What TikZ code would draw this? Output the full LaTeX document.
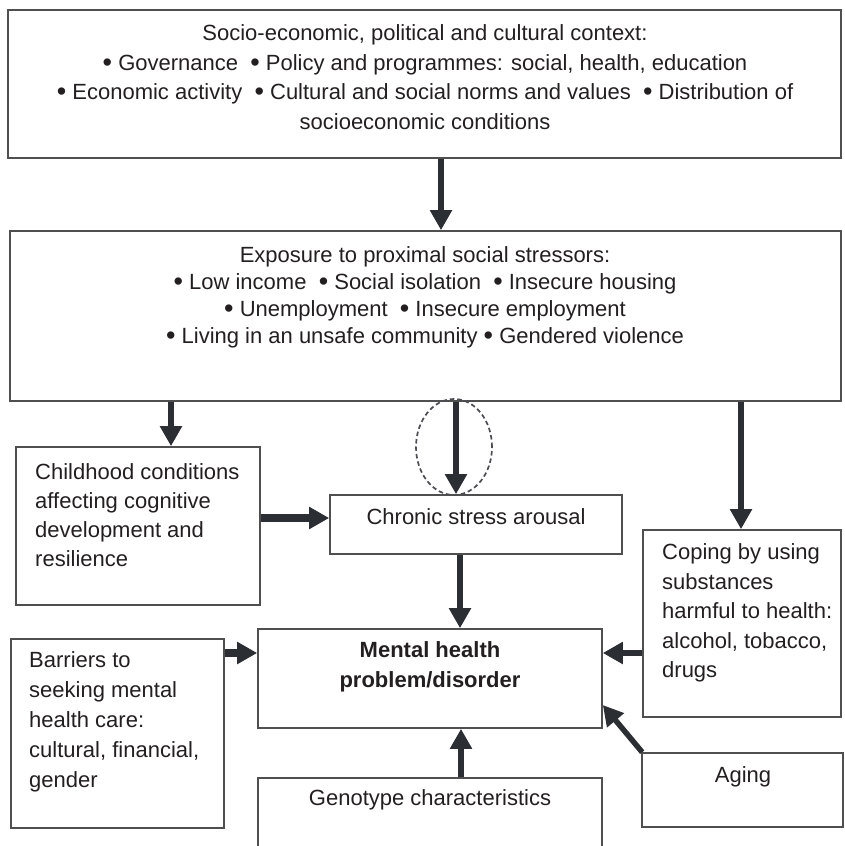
\documentclass[tikz,border=0pt]{standalone}
\usepackage{fontspec}
\setmainfont{Liberation Sans}
\usetikzlibrary{arrows.meta,shapes.geometric}
\definecolor{boxline}{HTML}{4F4F4F}
\definecolor{arrcol}{HTML}{2B2E33}
\definecolor{txt}{HTML}{231F20}
\newcommand\bigbul{\raisebox{-1.2pt}{\fontsize{27}{27}\selectfont•}}
\begin{document}
\begin{tikzpicture}[x=1pt,y=-1pt,
  box/.style={draw=boxline,line width=1.6pt,inner sep=0pt,rectangle},
  lbl/.style={inner sep=0pt,font=\fontsize{22}{29.5}\selectfont,text=txt},
  arr/.style={draw=arrcol,line width=6pt,-{Triangle[width=21pt,length=20pt]}},
  loopmark/.style={draw=arrcol!85,line width=1.7pt,dash pattern=on 4.5pt off 3pt,ellipse,inner sep=0pt}
]
\useasboundingbox (0,0) rectangle (844,846);
\clip (0,0) rectangle (844,846);
% boxes
\node[box,minimum width=833pt,minimum height=148pt] (ctx) at (424.5,84) {};
\node[box,minimum width=831pt,minimum height=170pt] (exp) at (425.5,316) {};
\node[box,minimum width=244pt,minimum height=158pt] (child) at (138,526) {};
\node[box,minimum width=292pt,minimum height=59pt] (chronic) at (476,524.5) {};
\node[box,minimum width=198pt,minimum height=187pt] (coping) at (742,623.5) {};
\node[box,minimum width=344pt,minimum height=99pt] (mental) at (430,678.5) {};
\node[box,minimum width=213pt,minimum height=189pt] (barriers) at (117.5,733.5) {};
\node[box,minimum width=201pt,minimum height=74pt] (aging) at (742.5,790) {};
\node[box,minimum width=344pt,minimum height=102pt] (geno) at (430,829) {};
% texts
\node[lbl,align=center] (ctxt) at (425,77) {Socio-economic, political and cultural context:\\
\bigbul\ Governance\ \ \bigbul\ Policy and programmes: social, health, education\\
\bigbul\ Economic activity\ \ \bigbul\ Cultural and social norms and values\ \ \bigbul\ Distribution of\\
socioeconomic conditions};
\node[lbl,align=center,font=\fontsize{22}{27}\selectfont] (expt) at (425,297.5) {Exposure to proximal social stressors:\\
\bigbul\ Low income\ \ \bigbul\ Social isolation\ \ \bigbul\ Insecure housing\\
\bigbul\ Unemployment\ \ \bigbul\ Insecure employment\\
\bigbul\ Living in an unsafe community \bigbul\ Gendered violence};
\node[lbl,align=left,anchor=west,font=\fontsize{22}{29}\selectfont] (childt) at (35,515.5) {Childhood conditions\\affecting cognitive\\development and\\resilience};
\node[lbl] (chronict) at (476,517) {Chronic stress arousal};
\node[lbl,align=left,anchor=west] (copingt) at (662,613) {Coping by using\\substances\\harmful to health:\\alcohol, tobacco,\\drugs};
\node[lbl,align=center,font=\fontsize{22}{30}\selectfont\bfseries] (mentalt) at (430,667) {Mental health\\problem/disorder};
\node[lbl,align=left,anchor=west,font=\fontsize{22}{30}\selectfont] (barrierst) at (29,721.5) {Barriers to\\seeking mental\\health care:\\cultural, financial,\\gender};
\node[lbl] (agingt) at (743,777) {Aging};
\node[lbl] (genot) at (430,800) {Genotype characteristics};
% dashed loop
\node[loopmark,minimum width=76pt,minimum height=96pt] (loop) at (454,447) {};
% arrows
\draw[arr] ([xshift=16.5pt]ctx.south) -- ([xshift=15.5pt]exp.north);
\draw[arr] ([xshift=-254.5pt]exp.south) -- ([xshift=33pt]child.north);
\draw[arr] ([xshift=30.5pt]exp.south) -- ([xshift=-20pt]chronic.north);
\draw[arr] ([xshift=315.5pt]exp.south) -- ([xshift=-1pt]coping.north);
\draw[arr,line width=7.5pt] ([yshift=8pt]child.east) -- ([yshift=6.5pt]chronic.west);
\draw[arr] ([xshift=-16pt]chronic.south) -- ([xshift=30pt]mental.north);
\draw[arr,line width=7.5pt] ([yshift=80.5pt]barriers.east) -- ([yshift=25.5pt]mental.west);
\draw[arr] ([yshift=-29.5pt]coping.west) -- ([yshift=25.5pt]mental.east);
\draw[arr,line width=5.5pt] ([xshift=1pt]aging.north west) -- ([yshift=-26.5pt]mental.east);
\draw[arr] ([xshift=31pt]geno.north) -- ([xshift=31pt]mental.south);
\end{tikzpicture}
\end{document}
